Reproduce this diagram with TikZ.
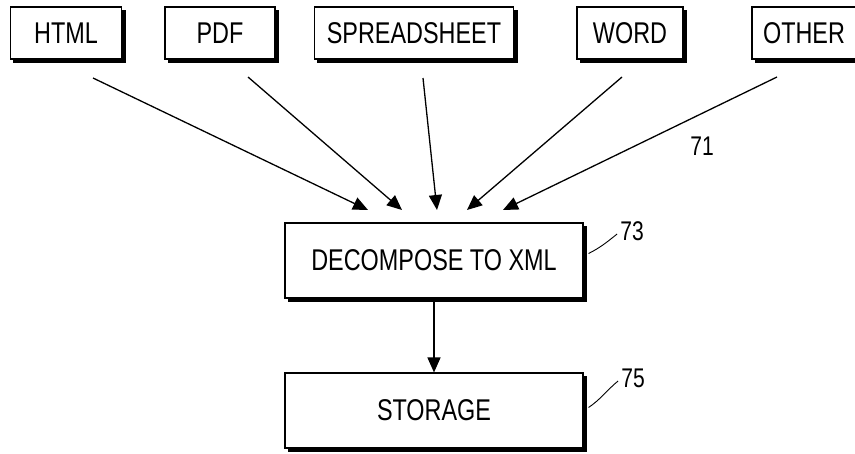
\documentclass[tikz,border=0pt]{standalone}
\usepackage{fontspec}
\setmainfont{Liberation Sans}[FakeStretch=0.78]
\usetikzlibrary{arrows.meta,calc}
\begin{document}
\begin{tikzpicture}[x=1pt,y=-1pt,
  box/.style={draw=black,line width=1.1pt,fill=white,inner sep=0pt,
    preaction={fill=black,draw=black,line width=1.1pt,transform canvas={shift={(3.5pt,-3.5pt)}}},
    font=\fontsize{30}{32}\selectfont},
  topbox/.style={box,minimum height=52pt},
  bigbox/.style={box,minimum width=298pt,minimum height=75pt},
  conn/.style={line width=1.3pt,-{Triangle[length=15pt,width=13pt]}},
  lead/.style={line width=0.9pt},
  num/.style={font=\fontsize{27}{29}\selectfont,inner sep=0pt}]
\useasboundingbox (0,0) rectangle (855,453);
\node[topbox,minimum width=111pt] (html) at (66,33) {HTML};
\node[topbox,minimum width=110pt] (pdf) at (220,33) {PDF};
\node[topbox,minimum width=199pt] (ss) at (414,33) {SPREADSHEET};
\node[topbox,minimum width=106pt] (word) at (630,33) {WORD};
\node[topbox,minimum width=104pt] (other) at (804,33) {OTHER};
\node[bigbox] (dec) at (434,260.5) {DECOMPOSE TO XML};
\node[bigbox] (sto) at (434,410.5) {STORAGE};
\coordinate (s1) at (93,78);
\coordinate (s2) at (248,77);
\coordinate (s3) at (423,78);
\coordinate (s4) at (622,77);
\coordinate (s5) at (777,77);
\coordinate (e1) at (368,210);
\coordinate (e2) at (402,210);
\coordinate (e3) at (437,210);
\coordinate (e4) at (467,210);
\coordinate (e5) at (503,210);
\draw[conn] (s1) -- (e1);
\draw[conn] (s2) -- (e2);
\draw[conn] (s3) -- (e3);
\draw[conn] (s4) -- (e4);
\draw[conn] (s5) -- (e5);
\draw[conn] (dec.south) -- (sto.north);
\node[num] (n71) at (702,146) {71};
\node[num] (n73) at (632,231) {73};
\node[num] (n75) at (633,378) {75};
\coordinate (a73) at ($(dec.east)+(5,-7)$);
\coordinate (a75) at ($(sto.east)+(5,-3)$);
\draw[lead] (a73) .. controls +(12,-6) and +(-10,8) .. ($(n73.west)+(-3,3)$);
\draw[lead] (a75) .. controls +(12,-8) and +(-10,8) .. ($(n75.west)+(-3,3)$);
\end{tikzpicture}
\end{document}
